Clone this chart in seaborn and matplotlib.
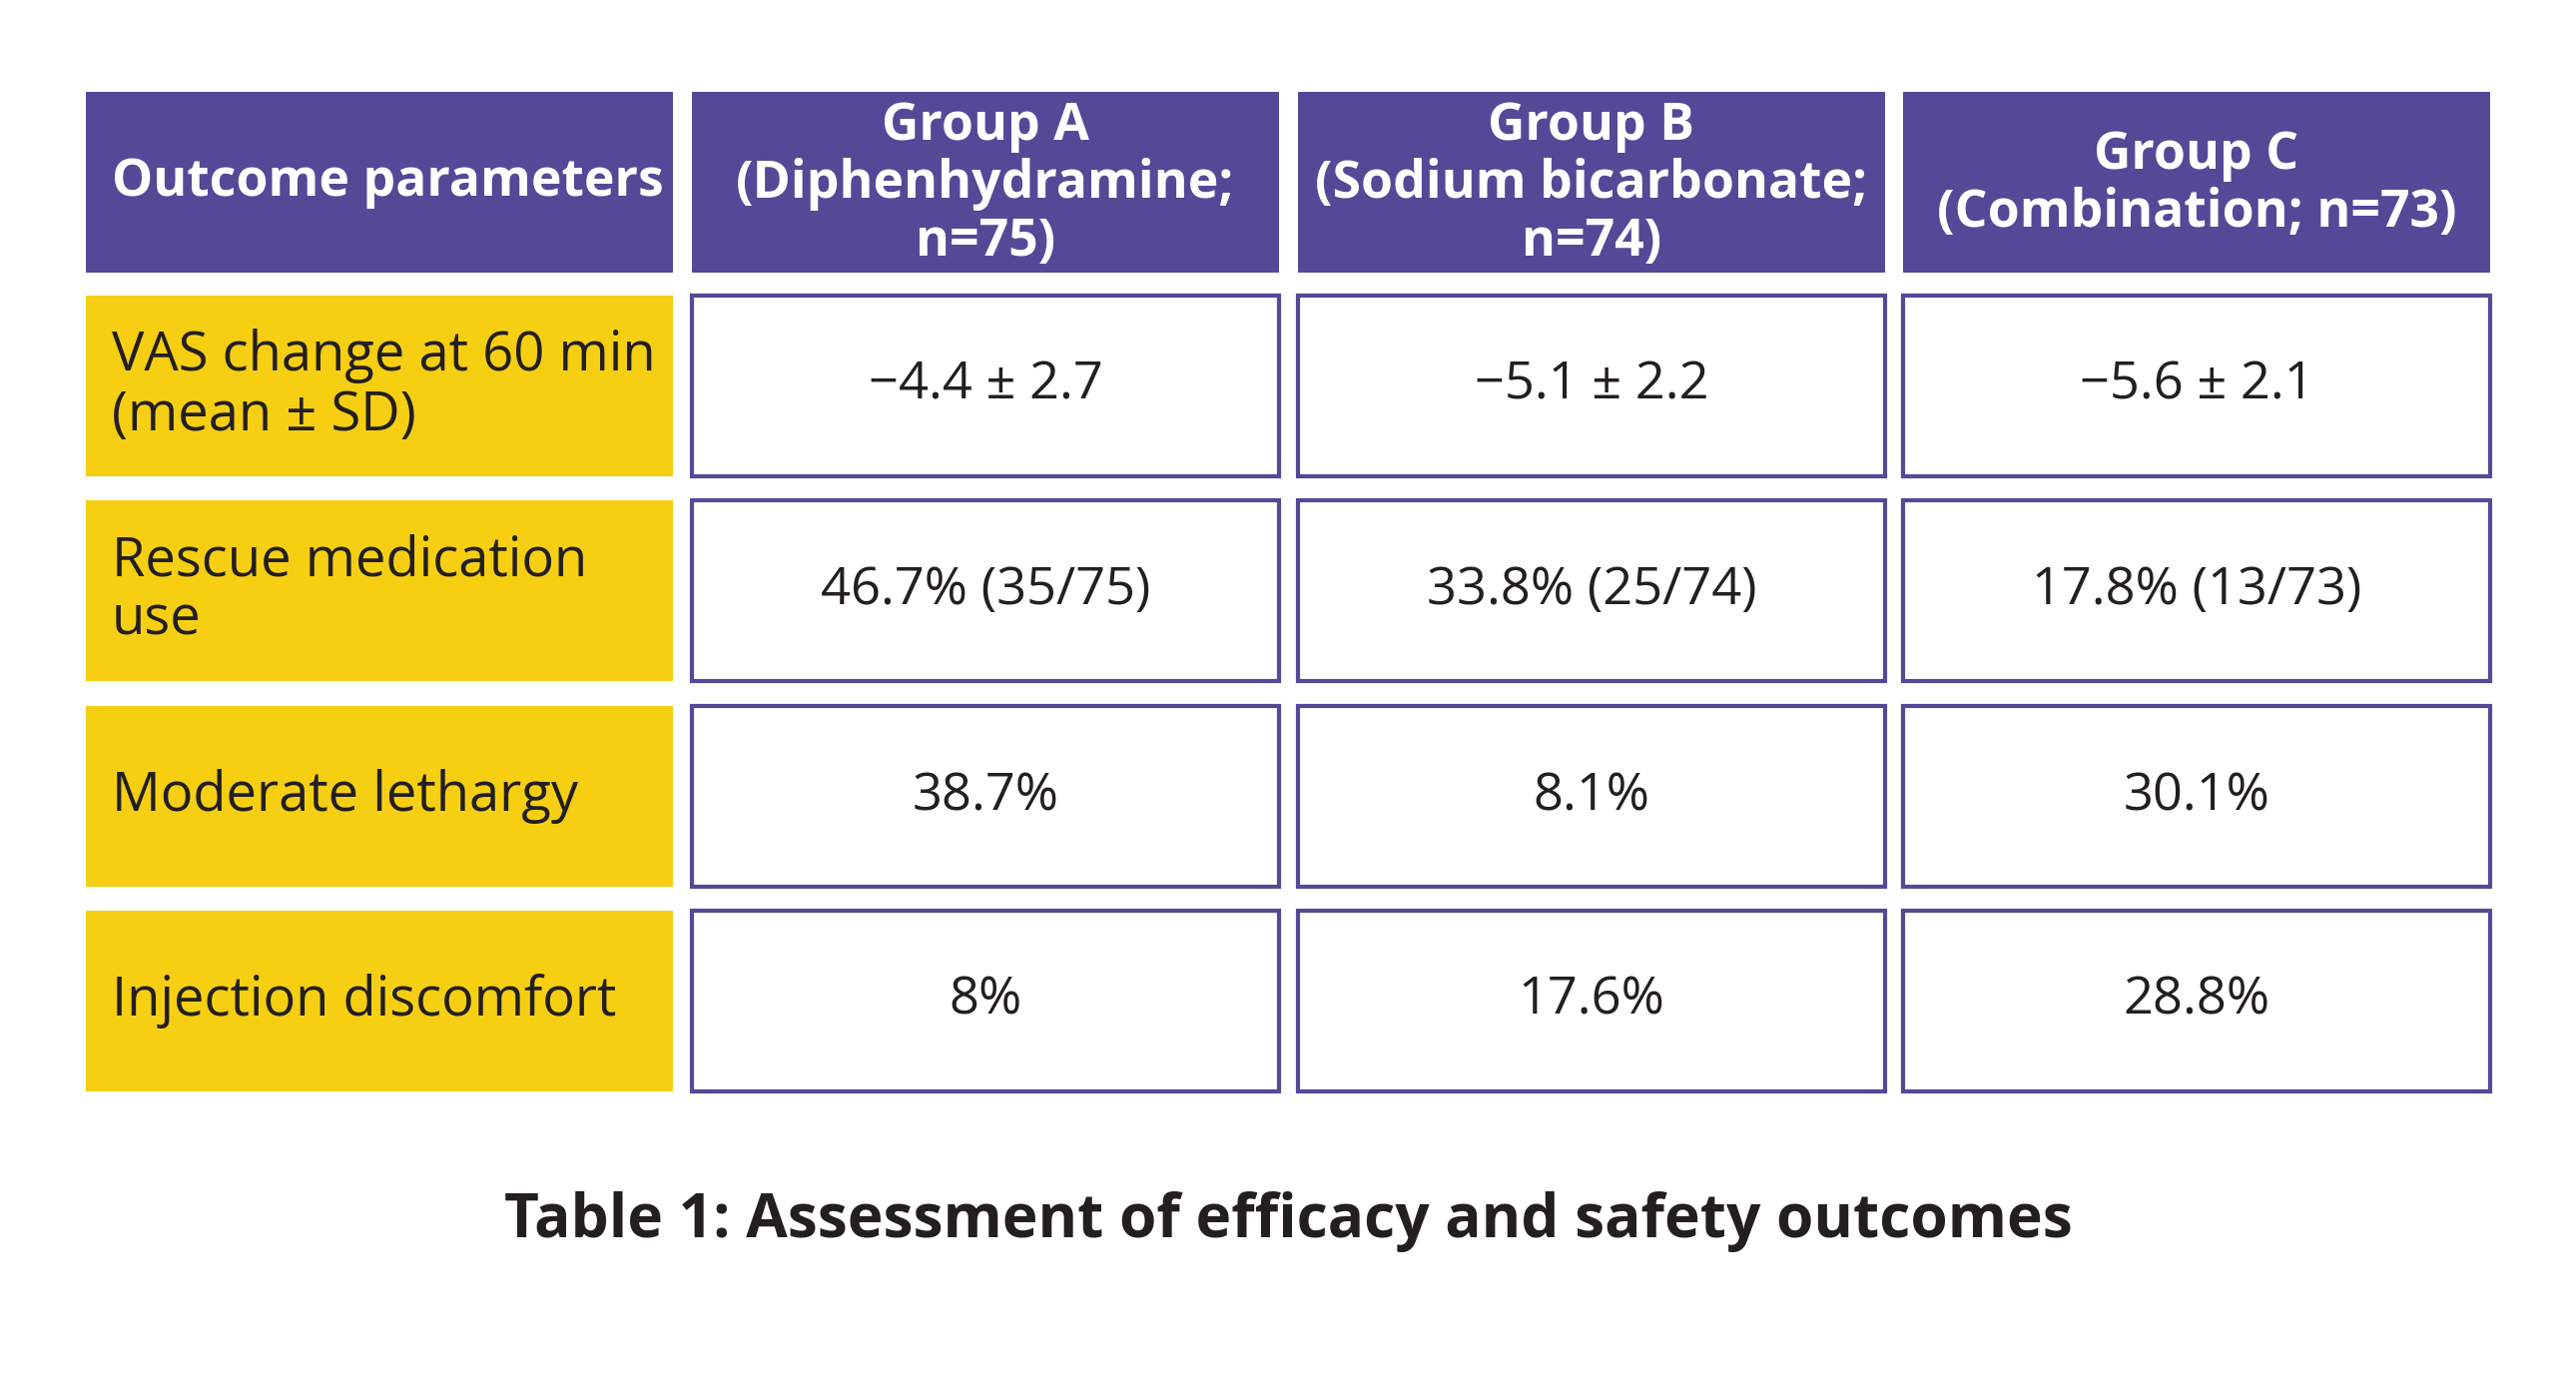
import matplotlib
matplotlib.use("Agg")
import matplotlib.pyplot as plt
from matplotlib.patches import Rectangle
import seaborn as sns

# ---- data ----
header_first = "Outcome parameters"
groups = ["Group A\n(Diphenhydramine;\nn=75)",
          "Group B\n(Sodium bicarbonate;\nn=74)",
          "Group C\n(Combination; n=73)"]
outcomes = ["VAS change at 60 min\n(mean ± SD)",
            "Rescue medication\nuse",
            "Moderate lethargy",
            "Injection discomfort"]
group_a_vals = ["−4.4 ± 2.7", "46.7% (35/75)", "38.7%", "8%"]
group_b_vals = ["−5.1 ± 2.2", "33.8% (25/74)", "8.1%", "17.6%"]
group_c_vals = ["−5.6 ± 2.1", "17.8% (13/73)", "30.1%", "28.8%"]
title = "Table 1: Assessment of efficacy and safety outcomes"

# ---- style ----
sns.set_theme(style="white")
FAM = ['Open Sans', 'DejaVu Sans']
plt.rcParams['font.family'] = FAM

PURPLE = "#544997"
YELLOW = "#F6CF12"
DARK = "#231F20"

W, H = 2580, 1400
fig = plt.figure(figsize=(W / 100, H / 100), dpi=100)
ax = fig.add_axes([0, 0, 1, 1])
ax.set_xlim(0, W)
ax.set_ylim(H, 0)
ax.axis("off")
renderer = fig.canvas.get_renderer()


def fit_size(sample, target_px, weight):
    t = ax.text(0, 0, sample, fontsize=40, fontweight=weight)
    w = t.get_window_extent(renderer).width
    t.remove()
    return 40 * target_px / w


hdr_fs = fit_size("Outcome parameters", 552, "bold")
lab_fs = fit_size("VAS change at 60 min", 545, "normal")
val_fs = fit_size("46.7% (35/75)", 330, "normal")
ttl_fs = fit_size(title, 1567, "bold")

col_x = [86, 693, 1300, 1906]
col_w = 588
row_y = [92, 296, 501, 707, 912]
row_h = 181

# header row
ax.add_patch(Rectangle((col_x[0], row_y[0]), col_w, row_h, facecolor=PURPLE, edgecolor="none"))
ax.text(col_x[0] + 26, row_y[0] + row_h / 2, header_first, color="white",
        fontsize=hdr_fs, fontweight="bold", ha="left", va="center")
for j, g in enumerate(groups):
    x0 = col_x[j + 1]
    ax.add_patch(Rectangle((x0, row_y[0]), col_w, row_h, facecolor=PURPLE, edgecolor="none"))
    ax.text(x0 + col_w / 2, row_y[0] + row_h / 2 + 2, g, color="white",
            fontsize=hdr_fs, fontweight="bold", ha="center", va="center",
            multialignment="center", linespacing=1.12)

# body rows
cols = [group_a_vals, group_b_vals, group_c_vals]
for i, label in enumerate(outcomes):
    y0 = row_y[i + 1]
    ax.add_patch(Rectangle((col_x[0], y0), col_w, row_h, facecolor=YELLOW, edgecolor="none"))
    ax.text(col_x[0] + 26, y0 + row_h / 2, label, color=DARK,
            fontsize=lab_fs, fontweight="normal", ha="left", va="center", linespacing=1.1)
    for j, vals in enumerate(cols):
        x0 = col_x[j + 1]
        ax.add_patch(Rectangle((x0, y0), col_w, row_h, facecolor="white",
                               edgecolor=PURPLE, linewidth=3))
        ax.text(x0 + col_w / 2, y0 + row_h / 2, vals[i], color=DARK,
                fontsize=val_fs, fontweight="normal", ha="center", va="center")

ax.text(W / 2, 1224, title, color=DARK, fontsize=ttl_fs, fontweight="bold",
        ha="center", va="center")

fig.savefig("out.png", dpi=100, facecolor="white")
